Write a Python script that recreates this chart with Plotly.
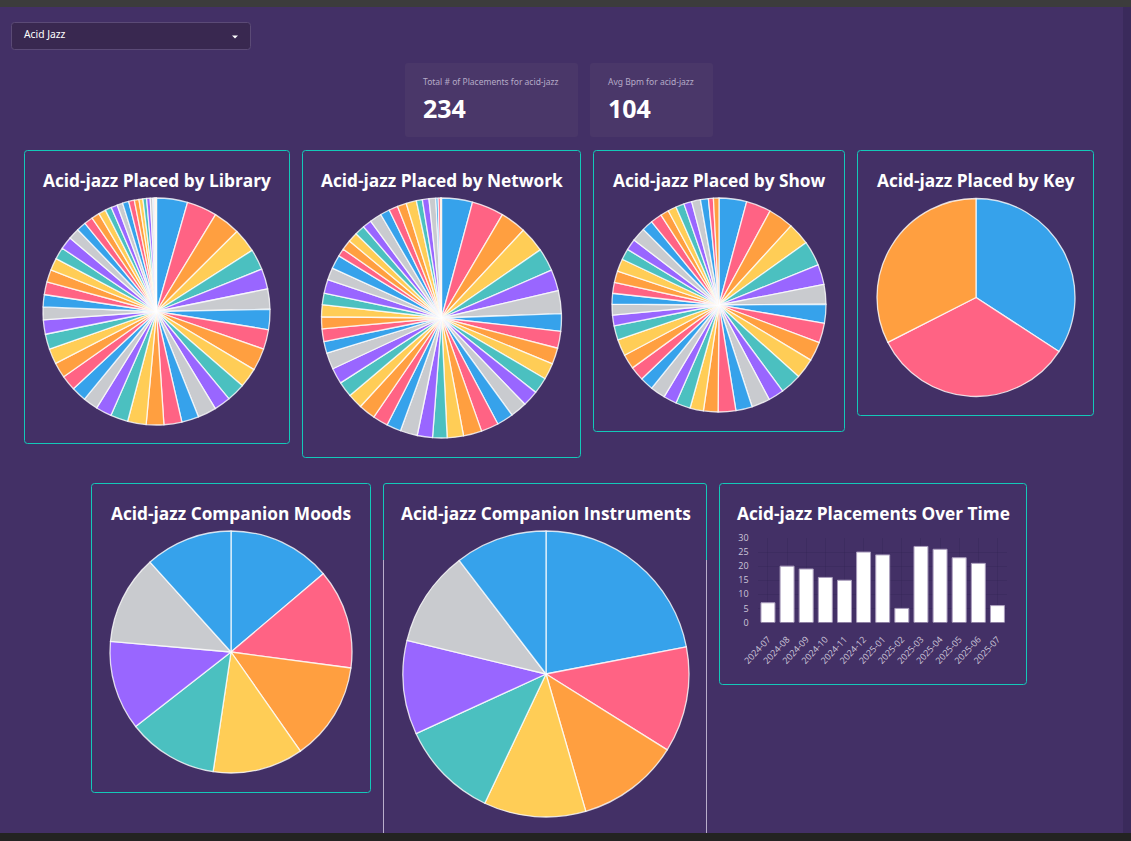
import plotly.graph_objects as go

PALETTE = ["#36A2EB", "#FF6384", "#FF9F40", "#FFCD56", "#4BC0C0", "#9966FF", "#C9CBCF"]

library_values = [15.9,15.5,13.8,12.3,10.7,10.4,10.4,10.4,10.1,11.5,10,9.5,8.5,9.5,8.8,9.2,9,9.5,9,8.1,7.6,7.7,7.8,7.9,7.9,7.8,7.3,6.6,6.3,6.5,6.4,6.3,6.1,6.5,5.7,4.9,4.5,4.1,3.7,3.3,3.2,2.9,3.2,2.9,2.4,2,1.9,1.8,1.4,.6,.5,.4,.3]
network_values = [15,15.5,12.5,12.4,11.1,10.3,11.1,8.5,8.2,7.9,7.9,7.9,7.7,8,8,8.5,8.9,7.9,7,7.4,8.3,7,7.4,8.1,7.3,7.5,7.7,8,5.6,6.2,5.8,5.8,5.6,6.6,6,6.6,3.8,4.9,4.7,4.9,4.3,5.8,4.6,4.3,4.4,5,2.9,3.2,3.3,1.1,1.1,0.5]
show_values = [15,13.5,13.8,12.1,13.6,10.9,10.7,10.3,10.7,10.4,11,11.5,8.5,10,8.9,9.6,7.9,7.3,8,7.2,8.1,7.3,7.7,8,9,7.7,5.9,5.9,5.8,5.9,6.3,6.8,6,6.1,7.6,6,6.2,4.5,4.6,4.6,4.3,4.8,4.3,2.7,3]
key_values = [80, 78, 76]
mood_values = [49.7, 47.9, 47.4, 43.5, 43.5, 43, 43, 42]
instrument_values = [79, 43, 41.8, 41.5, 40, 38.2, 39, 37.4]
months = ["2024-07","2024-08","2024-09","2024-10","2024-11","2024-12","2025-01","2025-02","2025-03","2025-04","2025-05","2025-06","2025-07"]
month_counts = [7, 20, 19, 16, 15, 25, 24, 5, 27, 26, 23, 21, 6]

titles = ["Acid-jazz Placed by Library", "Acid-jazz Placed by Network", "Acid-jazz Placed by Show",
          "Acid-jazz Placed by Key", "Acid-jazz Companion Moods", "Acid-jazz Companion Instruments",
          "Acid-jazz Placements Over Time"]

W, H = 1131, 841
BG = "#433066"
TEAL = "#14c8b8"
LAV = "#b9aecb"
FONT = "Open Sans"

def px(x): return x / W
def py(y): return 1 - y / H

def rrect(x0, y0, x1, y1, r=3):
    return (f"M{px(x0+r)},{py(y0)} L{px(x1-r)},{py(y0)} Q{px(x1)},{py(y0)} {px(x1)},{py(y0+r)} "
            f"L{px(x1)},{py(y1-r)} Q{px(x1)},{py(y1)} {px(x1-r)},{py(y1)} L{px(x0+r)},{py(y1)} "
            f"Q{px(x0)},{py(y1)} {px(x0)},{py(y1-r)} L{px(x0)},{py(y0+r)} Q{px(x0)},{py(y0)} {px(x0+r)},{py(y0)} Z")

fig = go.Figure()

pies = [
    (library_values, 156.5, 311.5, 113.5),
    (network_values, 441.5, 318, 120),
    (show_values, 719, 305, 107),
    (key_values, 976, 297.5, 99),
    (mood_values, 231, 652, 121),
    (instrument_values, 546, 674, 143),
]
for vals, cx, cy, r in pies:
    fig.add_trace(go.Pie(
        values=vals, sort=False, direction="clockwise", rotation=0,
        textinfo="none", hoverinfo="skip", showlegend=False,
        marker=dict(colors=[PALETTE[i % 7] for i in range(len(vals))],
                    line=dict(color="rgba(255,255,255,0.8)", width=1.3)),
        domain=dict(x=[px(cx - r), px(cx + r)], y=[py(cy + r), py(cy - r)]),
    ))

fig.add_trace(go.Bar(
    x=months, y=month_counts, showlegend=False, hoverinfo="skip",
    marker=dict(color="#ffffff", line=dict(color="#a99cbc", width=1)),
))

cards = [
    (24.5, 150.5, 289.5, 443.5, TEAL),
    (302.5, 150.5, 580.5, 457.5, TEAL),
    (593.5, 150.5, 844.5, 431.5, TEAL),
    (857.5, 150.5, 1093.5, 415.5, TEAL),
    (91.5, 483.5, 370.5, 792.5, TEAL),
    (719.5, 483.5, 1026.5, 684.5, TEAL),
]
shapes = []
shapes.append(dict(type="rect", xref="paper", yref="paper", x0=px(1123), x1=1, y0=0, y1=1, fillcolor="#3a2a5b", line_width=0, layer="below"))
for x0, y0, x1, y1, c in cards:
    shapes.append(dict(type="path", xref="paper", yref="paper", path=rrect(x0, y0, x1, y1), line=dict(color=c, width=1), layer="below"))
shapes.append(dict(type="path", xref="paper", yref="paper",
                   path=f"M{px(383.5)},{py(834)} L{px(383.5)},{py(486)} Q{px(383.5)},{py(483.5)} {px(386)},{py(483.5)} "
                        f"L{px(704)},{py(483.5)} Q{px(706.5)},{py(483.5)} {px(706.5)},{py(486)} L{px(706.5)},{py(834)}",
                   line=dict(color=TEAL, width=1), layer="below"))
shapes.append(dict(type="line", xref="paper", yref="paper", x0=px(383.5), x1=px(383.5), y0=py(560), y1=py(834), line=dict(color=LAV, width=1), layer="below"))
shapes.append(dict(type="line", xref="paper", yref="paper", x0=px(706.5), x1=px(706.5), y0=py(560), y1=py(834), line=dict(color=LAV, width=1), layer="below"))
shapes.append(dict(type="path", xref="paper", yref="paper", path=rrect(405, 63, 578, 137), fillcolor="#4a3769", line_width=0, layer="below"))
shapes.append(dict(type="path", xref="paper", yref="paper", path=rrect(590, 63, 713, 137), fillcolor="#4a3769", line_width=0, layer="below"))
shapes.append(dict(type="path", xref="paper", yref="paper", path=rrect(11.5, 22.5, 250.5, 49.5), fillcolor="#392850", line=dict(color="#5b4a76", width=1), layer="below"))
shapes.append(dict(type="path", xref="paper", yref="paper",
                   path=f"M{px(232)},{py(35.5)} L{px(238)},{py(35.5)} L{px(235)},{py(38.5)} Z", fillcolor="#ffffff", line_width=0))
shapes.append(dict(type="rect", xref="paper", yref="paper", x0=0, x1=1, y0=py(7), y1=1, fillcolor="#3c3c3c", line_width=0))
shapes.append(dict(type="rect", xref="paper", yref="paper", x0=0, x1=1, y0=0, y1=py(833), fillcolor="#232322", line_width=0))

annotations = []
def text(x, y, s, size, color="#ffffff", bold=False, anchor="center", font=FONT):
    annotations.append(dict(xref="paper", yref="paper", x=px(x), y=py(y), text=f"<b>{s}</b>" if bold else s,
                            showarrow=False, xanchor=anchor, yanchor="middle",
                            font=dict(size=size, color=color, family=font)))

title_pos = [(157, 180), (441.5, 180), (719.5, 180), (976, 180), (231, 513), (545.5, 513), (873, 513)]
for t, (x, y) in zip(titles, title_pos):
    text(x, y, t, 17.3, bold=True)
text(22, 34.5, "Acid Jazz", 10.3, anchor="left", font="Noto Sans")
text(421, 81.5, "Total # of Placements for acid-jazz", 8.5, color="#b6abc8", anchor="left", font="Noto Sans")
text(606, 81.5, "Avg Bpm for acid-jazz", 8.5, color="#b6abc8", anchor="left", font="Noto Sans")
text(421, 108, "234", 25, bold=True, anchor="left")
text(606, 108, "104", 25, bold=True, anchor="left")

fig.update_layout(
    width=W, height=H, autosize=False,
    margin=dict(l=0, r=0, t=0, b=0, pad=0),
    paper_bgcolor=BG, plot_bgcolor=BG,
    shapes=shapes, annotations=annotations,
    bargap=0.27,
    xaxis=dict(domain=[px(758.4), px(1007)], anchor="y", type="category", tickangle=-47, automargin=False,
               tickfont=dict(size=9, color="#cdc6d9", family="Open Sans"),
               ticks="outside", ticklen=7, tickcolor="rgba(0,0,0,0)",
               gridcolor="rgba(40,25,70,0.18)", showgrid=True, zeroline=False, showline=False),
    yaxis=dict(domain=[py(622.5), py(538)], anchor="x", range=[0, 30], dtick=5, automargin=False,
               tickfont=dict(size=9, color="#cdc6d9", family="Open Sans"),
               ticks="outside", ticklen=7, tickcolor="rgba(0,0,0,0)",
               gridcolor="rgba(40,25,70,0.18)", showgrid=True, zeroline=False, showline=False),
)
fig.write_html("out.html", config=dict(displayModeBar=False),
               post_script="document.body.style.margin='0';document.body.style.background='#433066';")
